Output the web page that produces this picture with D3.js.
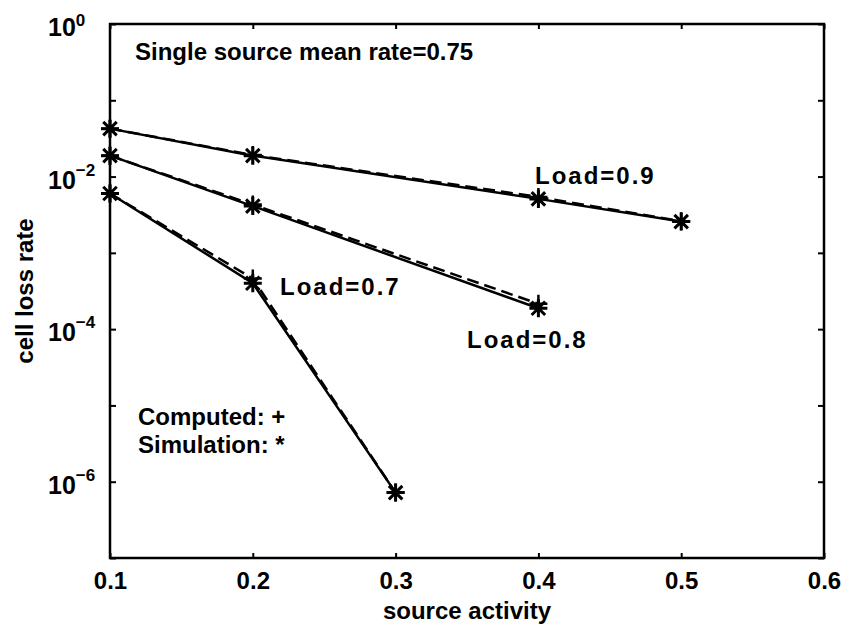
<!DOCTYPE html>
<html><head><meta charset="utf-8">
<script src="https://cdn.jsdelivr.net/npm/d3@7"></script>
<style>body{margin:0;background:#fff}svg{display:block}text{font-family:"Liberation Sans",Arial,sans-serif;font-weight:bold;fill:#000}</style>
</head><body><svg id="c" width="848" height="628"></svg>
<script>
// ---- data ----
const xLoad09 = [0.1, 0.2, 0.4, 0.5];
const xLoad08 = [0.1, 0.2, 0.4];
const xLoad07 = [0.1, 0.2, 0.3];
const simLoad09 = [0.0425, 0.0188, 0.0051, 0.00257];
const simLoad08 = [0.0188, 0.0041, 1.88e-4];
const simLoad07 = [0.006, 4.0e-4, 7.2e-7];
const compLoad09 = [0.0425, 0.0192, 0.0054, 0.0026];
const compLoad08 = [0.0188, 0.0043, 2.15e-4];
const compLoad07 = [0.006, 4.6e-4, 7.2e-7];
const xTicks = [0.1, 0.2, 0.3, 0.4, 0.5, 0.6];
const yTickExps = [0, -1, -2, -3, -4, -5, -6, -7];
const yLabelExps = [0, -2, -4, -6];
const seriesNames = ["Load=0.9", "Load=0.8", "Load=0.7"];

const svg = d3.select("#c");
const L = 110, R = 824, T = 24, B = 558;
const x = d3.scaleLinear().domain([0.1, 0.6]).range([L, R]);
const y = d3.scaleLog().domain([1e-7, 1]).range([B, T]);

// frame
svg.append("rect").attr("x", L).attr("y", T).attr("width", R - L).attr("height", B - T)
  .attr("fill", "none").attr("stroke", "#000").attr("stroke-width", 2.5);

// axes (ticks inside)
const xAxisB = d3.axisBottom(x).tickValues(xTicks).tickSize(-5).tickPadding(14).tickFormat(d3.format(".1f"));
const gx = svg.append("g").attr("transform", `translate(0,${B})`).call(xAxisB);
gx.select(".domain").remove();
gx.selectAll("line").attr("stroke-width", 2);
gx.selectAll("text").attr("font-size", 24).attr("dy", "0.71em");
const gxt = svg.append("g").attr("transform", `translate(0,${T})`).call(d3.axisTop(x).tickValues(xTicks).tickSize(-5).tickFormat(""));
gxt.select(".domain").remove(); gxt.selectAll("line").attr("stroke-width", 2);

const yVals = yTickExps.map(e => Math.pow(10, e));
const gy = svg.append("g").attr("transform", `translate(${L},0)`)
  .call(d3.axisLeft(y).tickValues(yVals).tickSize(-6).tickFormat(""));
gy.select(".domain").remove(); gy.selectAll("line").attr("stroke-width", 2);
const gyr = svg.append("g").attr("transform", `translate(${R},0)`)
  .call(d3.axisRight(y).tickValues(yVals).tickSize(-6).tickFormat(""));
gyr.select(".domain").remove(); gyr.selectAll("line").attr("stroke-width", 2);

// y labels 10^n
yLabelExps.forEach(e => {
  const t = svg.append("text").attr("x", 48).attr("y", y(Math.pow(10, e)) + 12)
    .attr("text-anchor", "start").attr("font-size", 25);
  t.append("tspan").text("10");
  t.append("tspan").attr("dy", e === 0 ? -10 : -13).attr("font-size", 17).text(e === 0 ? "0" : "\u2212" + (-e));
});

// lines
const line = d3.line().x(d => x(d[0])).y(d => y(d[1]));
const sim = [[xLoad09, simLoad09], [xLoad08, simLoad08], [xLoad07, simLoad07]];
const comp = [[xLoad09, compLoad09], [xLoad08, compLoad08], [xLoad07, compLoad07]];
comp.forEach(([xs, ys]) => {
  svg.append("path").attr("d", line(xs.map((v, i) => [v, ys[i]])))
    .attr("fill", "none").attr("stroke", "#000").attr("stroke-width", 2.5).attr("stroke-dasharray", "12,6");
});
sim.forEach(([xs, ys]) => {
  svg.append("path").attr("d", line(xs.map((v, i) => [v, ys[i]])))
    .attr("fill", "none").attr("stroke", "#000").attr("stroke-width", 2.5);
});
// markers: + for computed, * for simulation
const r = 9;
comp.forEach(([xs, ys]) => xs.forEach((v, i) => {
  const cx = x(v), cy = y(ys[i]);
  svg.append("path").attr("d", `M${cx - r},${cy}H${cx + r}M${cx},${cy - r}V${cy + r}`)
    .attr("stroke", "#000").attr("stroke-width", 2.5);
}));
sim.forEach(([xs, ys]) => xs.forEach((v, i) => {
  const cx = x(v), cy = y(ys[i]); const k = r * 0.75;
  svg.append("path").attr("d", `M${cx - r},${cy}H${cx + r}M${cx},${cy - r}V${cy + r}M${cx - k},${cy - k}L${cx + k},${cy + k}M${cx - k},${cy + k}L${cx + k},${cy - k}`)
    .attr("stroke", "#000").attr("stroke-width", 3);
}));

// annotations
const txt = (s, tx, ty, ls) => svg.append("text").attr("x", tx).attr("y", ty).attr("font-size", 24)
  .attr("letter-spacing", ls || 0).text(s);
txt("Single source mean rate=0.75", 135, 60);
txt(seriesNames[0], 535, 184, 2);
txt(seriesNames[1], 467, 348, 2);
txt(seriesNames[2], 280, 295, 2);
txt("Computed: +", 138, 425);
txt("Simulation: *", 138, 453);

// axis titles
svg.append("text").attr("x", (L + R) / 2).attr("y", 619).attr("text-anchor", "middle").attr("font-size", 24).text("source activity");
svg.append("text").attr("transform", `translate(33,${(T + B) / 2}) rotate(-90)`).attr("text-anchor", "middle").attr("font-size", 24).text("cell loss rate");
</script></body></html>
